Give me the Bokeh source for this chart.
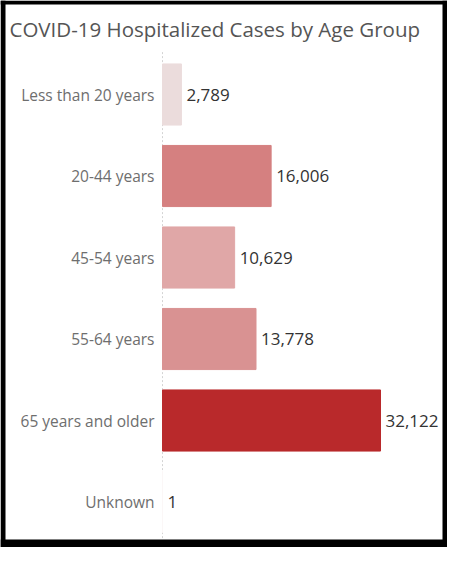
from bokeh.plotting import figure
from bokeh.models import ColumnDataSource, Range1d, Label
from bokeh.embed import file_html
from bokeh.resources import INLINE
from bokeh.core.properties import value

categories = ["Less than 20 years", "20-44 years", "45-54 years", "55-64 years",
              "65 years and older", "Unknown"]
cases = [2789, 16006, 10629, 13778, 32122, 1]
colors = ["#ebdcdc", "#d58080", "#e0a7a7", "#d99292", "#b9292b", "#fbf7f7"]
title = "COVID-19 Hospitalized Cases by Age Group"

labels = [f"{v:,}" for v in cases]
pos = list(range(len(categories)))  # row index, top to bottom

src = ColumnDataSource(dict(pos=pos, cat=categories, val=cases, col=colors, lab=labels))

W, H = 447, 547
# layout of the card (pixels)
zero_px, px_per_case = 162, 32122 / 218.0
row_px, first_row_px = 81.5, 94.0
y_top = -first_row_px / row_px
y_bottom = y_top + H / row_px
x_left = -zero_px * px_per_case
x_right = (W - zero_px) * px_per_case

p = figure(width=W, height=H, output_backend="svg", toolbar_location=None,
           x_range=Range1d(x_left, x_right),
           y_range=Range1d(y_bottom, y_top),
           min_border=0)
p.axis.visible = False
p.grid.visible = False
p.outline_line_color = None
p.background_fill_color = "white"
p.border_fill_color = "white"

# dotted zero line
p.segment(x0=0, x1=0, y0=-0.52, y1=y_bottom, line_color="#d4d4d4",
          line_dash="2 2", line_width=1)

p.hbar(y="pos", left=0, right="val", height=0.75, color="col", source=src)

p.text(x="val", y="pos", text="lab", source=src, x_offset=5, text_baseline="middle",
       text_font=value("Open Sans"), text_font_size="17px", text_color="#333333")

p.text(x=0, y="pos", text="cat", source=src, x_offset=-8, text_align="right",
       text_baseline="middle", text_font=value("Open Sans"),
       text_font_size="15.5px", text_color="#6e6e6e")

p.add_layout(Label(x=9, x_units="screen", y=y_top + 28 / row_px, y_units="data",
                   text=title, text_font="Open Sans", text_font_size="20.5px",
                   text_color="#555555", text_baseline="alphabetic"))

# black card border (left, right, top, bottom strips), drawn as glyphs
bl = 5 * px_per_case
br = 5 * px_per_case
bt = 4 / row_px
bb = 8 / row_px
p.quad(left=[x_left, x_right - br, x_left, x_left],
       right=[x_left + bl, x_right, x_right, x_right],
       top=[y_top, y_top, y_top, y_bottom - bb],
       bottom=[y_bottom, y_bottom, y_top + bt, y_bottom],
       fill_color="black", line_color=None)

open("out.html", "w").write(file_html(p, INLINE))
